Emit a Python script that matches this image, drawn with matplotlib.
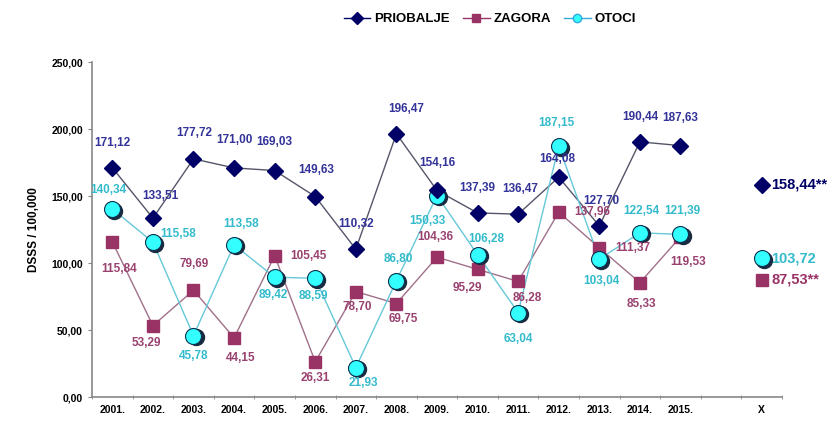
import matplotlib
matplotlib.use('Agg')
import matplotlib.pyplot as plt
from matplotlib.lines import Line2D

plt.rcParams['font.family'] = ['Liberation Sans', 'DejaVu Sans']

# Data
years = ['2001.', '2002.', '2003.', '2004.', '2005.', '2006.', '2007.', '2008.',
         '2009.', '2010.', '2011.', '2012.', '2013.', '2014.', '2015.']
mean_label = 'X'

priobalje = [171.12, 133.51, 177.72, 171.00, 169.03, 149.63, 110.32, 196.47,
             154.16, 137.39, 136.47, 164.08, 127.70, 190.44, 187.63]
zagora = [115.84, 53.29, 79.69, 44.15, 105.45, 26.31, 78.70, 69.75,
          104.36, 95.29, 86.28, 137.96, 111.37, 85.33, 119.53]
otoci = [140.34, 115.58, 45.78, 113.58, 89.42, 88.59, 21.93, 86.80,
         150.33, 106.28, 63.04, 187.15, 103.04, 122.54, 121.39]

priobalje_mean = 158.44
zagora_mean = 87.53
otoci_mean = 103.72

# label offsets in pixels (dx, dy) relative to the marker
pri_off = [(0, 25), (7, 22), (1, 26), (0, 28), (0, 29), (1, 27), (0, 25), (10, 25),
           (0, 27), (0, 25), (2, 25), (-1, 18), (2, 25), (0, 25), (0, 28)]
zag_off = [(7, -27), (-7, -17), (1, 26), (7, -20), (34, 0), (0, -16), (1, -15), (7, -15),
           (-2, 20), (-10, -19), (9, -17), (33, 0), (33, 0), (1, -21), (8, -25)]
oto_off = [(-4, 19), (25, 8), (0, -20), (7, 21), (-1, -18), (-2, -18), (8, -15), (2, 22),
           (-10, -25), (9, 16), (0, -26), (-2, 23), (2, -22), (1, 22), (2, 23)]

c_pri, c_pri_txt, c_pri_line = '#000066', '#333399', '#55556a'
c_zag, c_zag_txt, c_zag_line = '#993366', '#99416f', '#a0708a'
c_oto, c_oto_txt, c_oto_line = '#33ffff', '#33bbcc', '#66c8d8'


def fmt(v):
    return f'{v:.2f}'.replace('.', ',')


fig = plt.figure(figsize=(8.39, 4.28), dpi=100)
ax = fig.add_axes([0.1097, 0.0724, 0.8223, 0.7826])

x = list(range(len(years)))
xm = len(years) + 1

ax.plot(x, priobalje, color=c_pri_line, lw=1, zorder=2)
ax.plot(x, zagora, color=c_zag_line, lw=1, zorder=2)
ax.plot(x, otoci, color=c_oto_line, lw=1, zorder=2)

ax.plot(x + [xm], priobalje + [priobalje_mean], 'D', ms=8.5, color=c_pri, mec=c_pri, ls='none', zorder=4)
ax.plot(x + [xm], zagora + [zagora_mean], 's', ms=9, color=c_zag, mec=c_zag, ls='none', zorder=3)
# circle shadow
ax.plot([v + 0.05 for v in x + [xm]], [v - 1.2 for v in otoci + [otoci_mean]], 'o', ms=11.5,
        color='#1a2a40', mec='#1a2a40', ls='none', zorder=3)
ax.plot(x + [xm], otoci + [otoci_mean], 'o', ms=11.5, color=c_oto, mec='#0b3350', mew=0.8,
        ls='none', zorder=3.5)

for series, offs, col in [(priobalje, pri_off, c_pri_txt), (zagora, zag_off, c_zag_txt),
                          (otoci, oto_off, c_oto_txt)]:
    for xi, v, (dx, dy) in zip(x, series, offs):
        ax.annotate(fmt(v), (xi, v), xytext=(dx * 0.72, dy * 0.72), textcoords='offset points',
                    ha='center', va='center', fontsize=8.5, fontweight='bold', color=col,
                    zorder=5)

for v, col, suffix in [(priobalje_mean, c_pri, '**'), (zagora_mean, c_zag, '**'),
                       (otoci_mean, c_oto_txt, '')]:
    ax.annotate(fmt(v) + suffix, (xm, v), xytext=(7, 0), textcoords='offset points',
                ha='left', va='center', fontsize=10.5, fontweight='bold', color=col)

ax.set_xlim(-0.5, xm + 0.5)
ax.set_ylim(0, 250)
ax.set_yticks([0, 50, 100, 150, 200, 250])
ax.set_yticklabels([fmt(v) for v in [0, 50, 100, 150, 200, 250]],
                   fontsize=7.5, fontweight='bold')
ax.set_xticks(x + [xm])
ax.set_xticklabels(years + [mean_label], fontsize=7.5, fontweight='bold')
ax.set_xticks([i - 0.5 for i in range(xm + 2)], minor=True)
ax.tick_params(axis='x', which='major', length=0, pad=6)
ax.tick_params(axis='x', which='minor', length=3, direction='inout', color='#888888')
ax.tick_params(axis='y', length=3, color='#888888')

for s in ['top', 'right']:
    ax.spines[s].set_visible(False)
for s in ['left', 'bottom']:
    ax.spines[s].set_color('#888888')
    ax.spines[s].set_linewidth(1.2)

ax.set_ylabel('DSSS / 100,000', fontsize=8.5, fontweight='bold', labelpad=8)

handles = [
    Line2D([], [], color=c_pri, marker='D', ms=6, lw=1),
    Line2D([], [], color=c_zag, marker='s', ms=6, lw=1),
    Line2D([], [], color='#33aadd', marker='o', ms=6, mfc=c_oto, lw=1),
]
fig.legend(handles, ['PRIOBALJE', 'ZAGORA', 'OTOCI'], loc='center', ncol=3,
           bbox_to_anchor=(0.584, 0.955), frameon=False, handlelength=2,
           columnspacing=1.0, handletextpad=0.3,
           prop={'size': 9.5, 'weight': 'bold'})

fig.savefig('out.png', dpi=100)
plt.close(fig)
